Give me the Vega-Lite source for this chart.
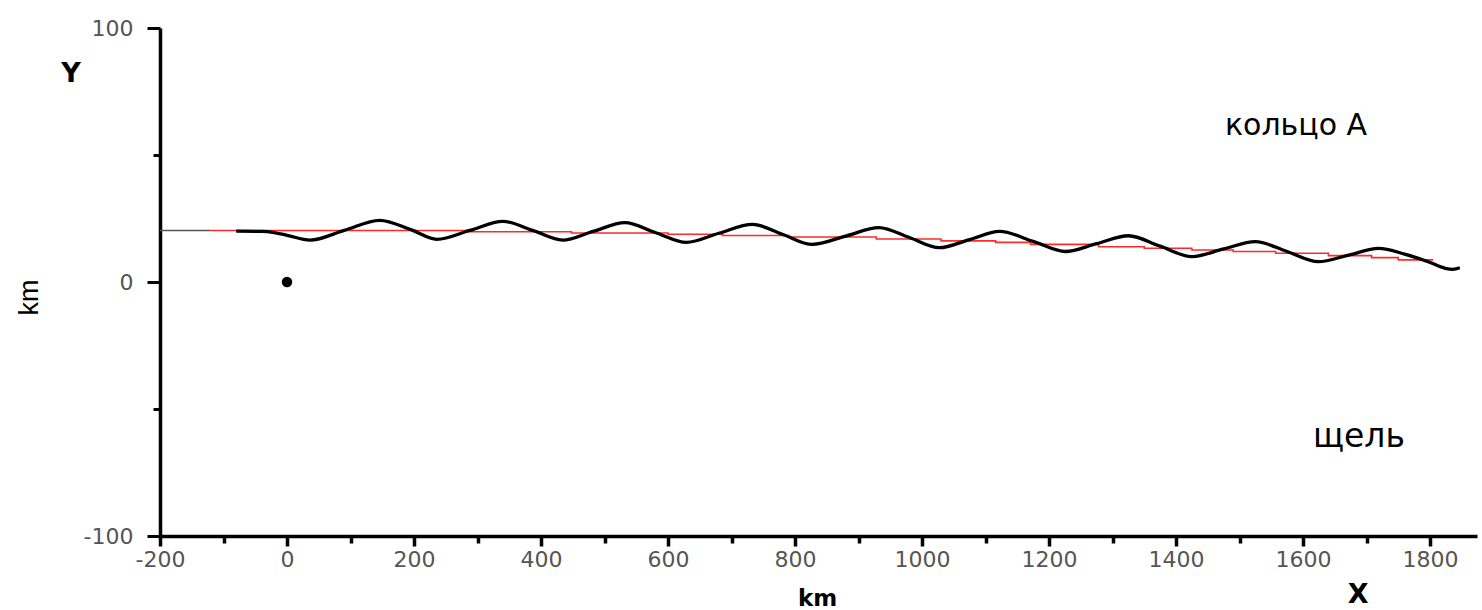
{
  "$schema": "https://vega.github.io/schema/vega-lite/v6.json",
  "width": 1317,
  "height": 508,
  "autosize": {"type": "none"},
  "padding": {"left": 160, "top": 28, "right": 5, "bottom": 74},
  "background": "white",
  "config": {"view": {"stroke": null}},
  "datasets": {
    "flat": [
      {"x": -200, "y": 20.3},
      {"x": -121, "y": 20.3}
    ],
    "red": [
      {"x": -121, "y": 20.3},
      {"x": 283, "y": 19.8},
      {"x": 448, "y": 19.3},
      {"x": 600, "y": 18.8},
      {"x": 686, "y": 18.3},
      {"x": 790, "y": 17.7},
      {"x": 928, "y": 16.9},
      {"x": 1030, "y": 16.2},
      {"x": 1116, "y": 15.6},
      {"x": 1171, "y": 14.8},
      {"x": 1278, "y": 13.9},
      {"x": 1350, "y": 13.3},
      {"x": 1425, "y": 12.6},
      {"x": 1490, "y": 12.0},
      {"x": 1557, "y": 11.3},
      {"x": 1640, "y": 10.4},
      {"x": 1708, "y": 9.6},
      {"x": 1750, "y": 8.7},
      {"x": 1805, "y": 8.7}
    ],
    "wave": [
      {"x": -80, "y": 20.0},
      {"x": -40, "y": 19.9},
      {"x": -20, "y": 19.4},
      {"x": 0, "y": 18.4},
      {"x": 36, "y": 16.5},
      {"x": 90, "y": 20.3},
      {"x": 146, "y": 24.3},
      {"x": 195, "y": 20.6},
      {"x": 236, "y": 16.8},
      {"x": 288, "y": 20.3},
      {"x": 340, "y": 23.9},
      {"x": 388, "y": 20.2},
      {"x": 434, "y": 16.5},
      {"x": 482, "y": 19.9},
      {"x": 532, "y": 23.4},
      {"x": 580, "y": 19.5},
      {"x": 629, "y": 15.6},
      {"x": 680, "y": 19.2},
      {"x": 733, "y": 22.7},
      {"x": 780, "y": 18.8},
      {"x": 827, "y": 14.8},
      {"x": 880, "y": 18.1},
      {"x": 932, "y": 21.4},
      {"x": 980, "y": 17.5},
      {"x": 1027, "y": 13.5},
      {"x": 1075, "y": 16.7},
      {"x": 1122, "y": 19.9},
      {"x": 1175, "y": 16.0},
      {"x": 1226, "y": 12.0},
      {"x": 1275, "y": 15.1},
      {"x": 1325, "y": 18.2},
      {"x": 1375, "y": 14.1},
      {"x": 1425, "y": 10.0},
      {"x": 1475, "y": 13.0},
      {"x": 1525, "y": 15.9},
      {"x": 1575, "y": 12.0},
      {"x": 1624, "y": 8.0},
      {"x": 1672, "y": 10.6},
      {"x": 1719, "y": 13.2},
      {"x": 1760, "y": 11.0},
      {"x": 1797, "y": 8.0},
      {"x": 1824, "y": 5.4},
      {"x": 1836, "y": 5.0},
      {"x": 1847, "y": 5.6}
    ],
    "dot": [{"x": 0, "y": 0}],
    "ring": [{"x": 1589, "y": 57.9, "label": "кольцо А"}],
    "gap": [{"x": 1688, "y": -65, "label": "щель"}],
    "axisletters": [
      {"x": -340, "y": 78.7, "label": "Y"},
      {"x": 1687, "y": -126.4, "label": "X"}
    ]
  },
  "encoding": {
    "x": {
      "field": "x",
      "type": "quantitative",
      "scale": {"domain": [-200, 1874], "nice": false, "zero": false},
      "axis": {
        "values": [-200, -100, 0, 100, 200, 300, 400, 500, 600, 700, 800, 900, 1000, 1100, 1200, 1300, 1400, 1500, 1600, 1700, 1800],
        "labelExpr": "datum.value % 200 === 0 ? '' + datum.value : ''",
        "grid": false,
        "domainColor": "black",
        "domainWidth": 3.5,
        "tickColor": "black",
        "tickWidth": 3.5,
        "tickSize": {"condition": {"test": "datum.value % 200 === 0", "value": 10}, "value": 7},
        "labelFont": "DejaVu Sans",
        "labelFontSize": 22,
        "labelColor": "#555",
        "labelPadding": 3,
        "labelFlush": false,
        "labelOverlap": false,
        "title": "km",
        "titleFont": "DejaVu Sans",
        "titleFontWeight": "bold",
        "titleFontSize": 23,
        "titleColor": "black",
        "titleX": 657,
        "titleY": 69,
        "titleAlign": "center",
        "titleBaseline": "alphabetic"
      }
    },
    "y": {
      "field": "y",
      "type": "quantitative",
      "scale": {"domain": [-100, 100], "nice": false, "zero": false},
      "axis": {
        "values": [-100, -50, 0, 50, 100],
        "labelExpr": "datum.value % 100 === 0 ? '' + datum.value : ''",
        "grid": false,
        "domainColor": "black",
        "domainWidth": 3.5,
        "tickColor": "black",
        "tickWidth": 3,
        "tickSize": {"condition": {"test": "datum.value % 100 === 0", "value": 13}, "value": 7},
        "labelFont": "DejaVu Sans",
        "labelFontSize": 22,
        "labelColor": "#555",
        "labelPadding": 14,
        "labelFlush": false,
        "labelOverlap": false,
        "title": "km",
        "titleFont": "Liberation Sans",
        "titleFontWeight": "normal",
        "titleFontSize": 27,
        "titleColor": "black",
        "titleAngle": -90,
        "titleX": -131,
        "titleY": 269,
        "titleAlign": "center",
        "titleBaseline": "middle"
      }
    }
  },
  "layer": [
    {
      "data": {"name": "flat"},
      "mark": {"type": "line", "color": "#555", "strokeWidth": 1.5}
    },
    {
      "data": {"name": "red"},
      "mark": {"type": "line", "color": "#ff2a2a", "strokeWidth": 1.6, "interpolate": "step-after"}
    },
    {
      "data": {"name": "wave"},
      "mark": {"type": "line", "color": "black", "strokeWidth": 3.3, "interpolate": "monotone"}
    },
    {
      "data": {"name": "dot"},
      "mark": {"type": "point", "shape": "circle", "filled": true, "color": "black", "size": 110, "opacity": 1}
    },
    {
      "data": {"name": "ring"},
      "mark": {"type": "text", "font": "DejaVu Sans", "fontSize": 30, "color": "black", "align": "center", "baseline": "alphabetic"},
      "encoding": {"text": {"field": "label"}}
    },
    {
      "data": {"name": "gap"},
      "mark": {"type": "text", "font": "DejaVu Sans", "fontSize": 33, "color": "black", "align": "center", "baseline": "alphabetic"},
      "encoding": {"text": {"field": "label"}}
    },
    {
      "data": {"name": "axisletters"},
      "mark": {"type": "text", "font": "DejaVu Sans", "fontWeight": "bold", "fontSize": 27, "color": "black", "align": "center", "baseline": "alphabetic"},
      "encoding": {"text": {"field": "label"}}
    }
  ]
}
